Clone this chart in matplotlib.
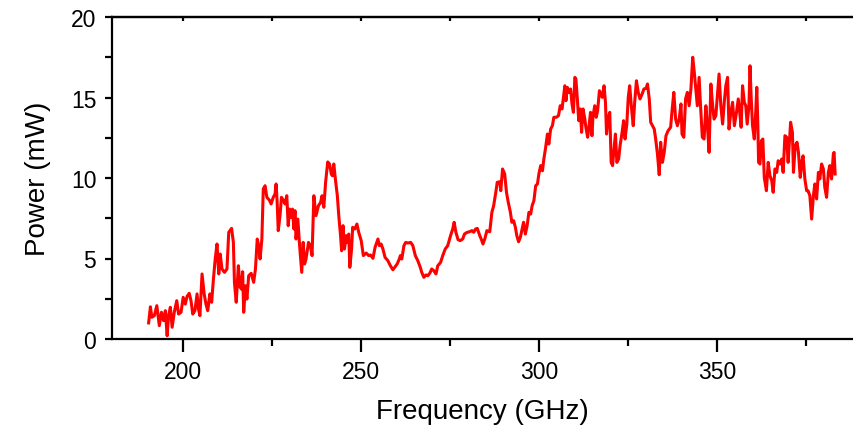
import matplotlib
matplotlib.use("Agg")
import matplotlib.pyplot as plt
from matplotlib.ticker import MultipleLocator

freq = [190.4, 190.9, 191.3, 192.0, 192.7, 193.4, 194.0, 194.6, 195.1, 195.6, 196.0, 196.5, 197.0, 197.6, 198.3,
        198.8, 199.5, 200.1, 200.7, 201.2, 201.8, 202.3, 202.8, 203.4, 204.0, 204.4, 204.8, 205.4, 206.0, 206.5,
        207.0, 207.6, 208.1, 208.6, 209.1, 209.6, 210.1, 210.5, 211.0,
        211.7, 212.4, 212.9, 213.7, 214.2, 214.5, 215.0, 215.6, 216.1, 216.5, 216.8, 217.1, 217.6, 218.0, 218.5,
        219.2, 219.9, 220.4, 220.9, 221.3, 221.7, 222.2, 222.6, 223.1, 223.6, 224.3, 224.8, 225.4, 225.9, 226.2,
        226.5, 226.8, 227.3, 227.7, 228.3, 228.7, 229.2, 229.6, 230.0, 230.4, 230.8, 231.2, 231.5, 231.8, 232.3,
        232.8, 233.4, 233.8, 234.2, 234.6, 235.3, 235.8, 236.3,
        236.8, 237.4, 238.1, 238.7, 239.1, 239.6, 240.1, 240.7, 241.2, 241.7, 242.0, 242.4, 242.9, 243.4, 243.8,
        244.3, 244.6, 245.0, 245.4, 245.9, 246.2, 246.6, 246.9, 247.4, 247.7, 248.3, 248.9, 249.4, 250.1, 250.7,
        251.5, 252.2, 252.7, 253.4, 254.0, 254.8, 255.2, 255.7, 256.2, 256.8, 257.6, 258.3, 259.0,
        259.5, 260.2, 260.8, 261.1, 261.5, 262.1, 262.6, 263.2, 264.0, 264.6, 265.3, 266.0, 266.7, 267.1, 267.7,
        268.3, 268.8, 269.4, 269.9, 270.5, 271.1, 271.6, 272.4, 273.0, 273.7, 274.4, 275.2, 275.8, 276.2, 276.7,
        277.3, 277.9, 278.6, 279.1, 279.9, 280.5, 281.2, 281.7, 282.2, 282.7, 283.4,
        283.8, 284.3, 284.8, 285.4, 286.2, 286.8, 287.3, 287.9, 288.3, 289.0, 289.3, 289.8, 290.4, 290.9, 291.4,
        292.0, 292.4, 292.9, 293.4, 293.8, 294.3, 294.8, 295.3, 295.7, 296.2, 296.7, 297.2, 297.7, 298.1, 298.6,
        299.1, 299.6, 300.0, 300.5, 301.0, 301.4, 301.9, 302.4, 302.8, 303.3, 303.8, 304.2, 304.9, 305.5, 306.0,
        306.5, 306.9,
        307.3, 307.6, 308.0, 308.4, 308.9, 309.3, 309.7, 310.1, 310.4, 310.8, 311.2, 311.6, 312.0, 312.4, 312.9,
        313.2, 313.7, 314.1, 314.5, 314.9, 315.2, 315.7, 316.1, 316.5, 317.0, 317.4, 317.8, 318.3, 318.7, 319.0,
        319.4, 319.9, 320.3, 320.7, 321.1, 321.5, 321.9, 322.4, 322.8, 323.3, 323.8, 324.2, 324.7, 325.1, 325.5,
        326.0, 326.5, 326.9, 327.4, 327.9, 328.4, 329.0, 329.5, 330.1, 330.5, 331.0,
        331.4, 331.9, 332.4, 332.8, 333.3, 333.8, 334.2, 334.7, 335.2, 335.7, 336.3, 337.0, 337.4, 337.9, 338.4,
        338.9, 339.4, 339.9, 340.2, 340.7, 341.2, 341.7, 342.2, 342.7, 343.2, 343.6, 344.0, 344.5, 345.0, 345.4,
        345.9, 346.4, 346.9, 347.4, 347.8, 348.3, 348.8, 349.2, 349.7, 350.2, 350.6, 351.1, 351.6, 352.1, 352.5,
        353.0, 353.4, 353.9, 354.4, 354.9,
        355.5, 356.0, 356.5, 356.8, 357.2, 357.7, 358.1, 358.5, 359.0, 359.3, 359.6, 360.0, 360.5, 360.9, 361.2,
        361.5, 361.7, 362.1, 362.5, 362.9, 363.3, 363.9, 364.4, 364.9, 365.4, 365.8, 366.3, 366.8, 367.2, 367.7,
        368.2, 368.6, 369.1, 369.6, 370.0, 370.7, 371.2, 371.5, 372.0, 372.5, 372.9, 373.4, 373.9, 374.2, 374.7,
        375.2, 375.6, 376.1, 376.6, 377.1, 377.5, 378.0, 378.5, 378.9, 379.4, 379.9, 380.3, 380.8, 381.3, 381.7,
        382.2, 382.7, 382.9, 383.2]

power = [1.0, 2.0, 1.35, 1.45, 2.07, 0.83, 1.66, 1.14, 1.76, 0.2, 1.45, 1.97, 0.73, 1.66, 2.38,
         1.55, 1.66, 2.59, 2.17, 2.65, 2.84, 2.38, 1.55, 1.76, 2.8, 1.86, 1.45, 4.04, 2.8, 2.17,
         1.76, 2.8, 2.28, 3.73, 4.97, 5.9, 4.04, 5.28, 4.35,
         4.14, 4.35, 6.63, 6.87, 6.0, 3.52, 2.28, 4.55, 3.21, 3.1, 4.18, 1.66, 3.31, 2.48, 3.93,
         4.08, 3.52, 4.35, 6.21, 5.8, 4.97, 6.21, 9.32, 9.52, 8.8, 8.63, 8.39, 8.8, 9.0, 9.63,
         8.49, 6.73, 7.66, 8.8, 8.59, 8.39, 8.9, 7.04, 8.07, 7.56, 8.07, 6.83, 7.97, 6.21, 7.45,
         5.8, 4.14, 6.0, 4.66, 4.97, 6.0, 5.8, 5.18,
         8.9, 7.66, 8.28, 8.49, 8.9, 8.18, 9.73, 11.0, 10.87, 10.25, 10.14, 10.87, 9.83, 8.9, 7.66,
         6.42, 5.48, 7.04, 5.59, 6.42, 6.0, 6.52, 4.45, 5.59, 6.94, 6.83, 7.14, 6.63, 6.11, 5.18,
         5.34, 5.18, 5.22, 5.01, 5.7, 6.21, 5.8, 5.9, 5.59, 5.07, 4.86, 4.55, 4.3,
         4.45, 4.66, 4.97, 5.18, 4.97, 5.8, 6.0, 5.96, 6.0, 5.8, 5.18, 4.86, 4.45, 4.14, 3.83,
         3.98, 3.93, 4.1, 4.35, 4.24, 4.04, 4.55, 4.76, 5.18, 5.59, 5.8, 6.42, 6.83, 7.25, 6.63,
         6.17, 6.11, 6.21, 6.52, 6.63, 6.66, 6.73, 6.63, 6.83, 6.87, 6.42,
         6.21, 5.9, 6.21, 6.73, 6.66, 7.87, 8.28, 9.11, 9.73, 9.77, 9.21, 10.56, 10.25, 9.11, 8.49,
         7.87, 7.25, 7.35, 6.94, 6.42, 6.04, 6.32, 6.83, 7.25, 6.52, 7.04, 7.87, 7.76, 8.28, 8.59,
         9.52, 9.63, 10.25, 10.77, 10.45, 11.18, 11.9, 12.73, 12.11, 13.04, 13.25, 13.77, 13.77, 13.87, 14.49,
         14.29, 15.01,
         15.73, 14.8, 15.63, 15.32, 15.53, 14.6, 14.08, 16.25, 16.15, 14.91, 13.56, 14.29, 12.84, 14.29, 13.66,
         13.15, 12.53, 13.25, 14.08, 12.63, 13.87, 14.49, 13.77, 14.18, 15.42, 15.22, 15.01, 15.73, 14.7, 12.73,
         13.66, 14.08, 10.97, 10.77, 11.8, 12.73, 10.97, 11.18, 12.01, 12.73, 13.56, 12.42, 13.35, 15.01, 15.73,
         14.39, 13.25, 14.7, 16.04, 15.32, 14.91, 15.22, 15.53, 15.57, 15.84, 14.91,
         13.46, 13.25, 13.04, 12.42, 11.49, 10.2, 12.22, 10.97, 11.59, 12.63, 12.94, 13.15, 14.18, 15.32, 13.66,
         13.25, 13.66, 14.6, 12.73, 12.53, 14.91, 15.32, 14.49, 15.53, 17.5, 16.67, 15.73, 14.49, 16.25, 14.49,
         12.53, 12.42, 14.49, 13.04, 11.59, 15.84, 14.49, 13.66, 13.87, 15.32, 16.46, 14.49, 13.35, 14.8, 15.73,
         16.25, 13.04, 14.08, 14.7, 13.25,
         14.08, 14.91, 13.87, 13.15, 15.73, 14.7, 14.49, 13.35, 14.49, 16.97, 15.11, 13.25, 12.42, 14.08, 15.63,
         13.25, 10.97, 10.87, 12.32, 12.42, 10.04, 9.21, 10.97, 10.14, 9.83, 9.11, 10.56, 10.35, 11.07, 10.87,
         11.18, 10.35, 12.63, 12.53, 10.97, 13.46, 12.84, 10.35, 12.01, 12.22, 11.59, 10.04, 11.07, 11.38, 9.94,
         9.21, 9.21, 8.9, 7.45, 8.9, 9.63, 8.7, 10.35, 9.94, 10.87, 10.56, 9.42, 8.8, 10.35, 10.77,
         9.94, 11.49, 11.59, 10.25]

x_ticks = [200, 250, 300, 350]
y_ticks = [0, 5, 10, 15, 20]

plt.rcParams['font.family'] = ['Liberation Sans', 'DejaVu Sans']
tick_fs, label_fs = 16.5, 20

fig = plt.figure(figsize=(8.54, 4.31), dpi=100)
ax = fig.add_axes([111.6 / 854, 91 / 431, 1 - 111.6 / 854, 322 / 431])

ax.plot(freq, power, color='#ff0000', linewidth=2.2)

ax.set_xlim(180, 388.5)
ax.set_ylim(0, 20)

ax.set_xticks(x_ticks)
ax.set_yticks(y_ticks)
ax.xaxis.set_minor_locator(MultipleLocator(25))
ax.yaxis.set_minor_locator(MultipleLocator(2.5))

for s in ['left', 'bottom', 'top']:
    ax.spines[s].set_linewidth(1.6)
    ax.spines[s].set_color('black')
ax.spines['right'].set_visible(False)

ax.tick_params(axis='x', which='major', direction='out', length=9, width=1.6,
               labelsize=tick_fs, pad=6)
ax.tick_params(axis='x', which='minor', direction='out', length=5, width=1.6)
ax.tick_params(axis='y', which='major', direction='out', length=5, width=1.6,
               labelsize=tick_fs, pad=6)
ax.tick_params(axis='y', which='minor', direction='out', length=5, width=1.6)

sec = ax.secondary_xaxis('top')
sec.set_xticks([200, 225, 250, 275, 300, 325, 350, 375])
sec.tick_params(direction='in', length=3, width=1.6, labeltop=False)
sec.spines['top'].set_linewidth(1.6)

ax.set_xlabel('Frequency (GHz)', fontsize=label_fs, labelpad=11)
ax.set_ylabel('Power (mW)', fontsize=label_fs, labelpad=14)

fig.savefig('out.png', dpi=100)
